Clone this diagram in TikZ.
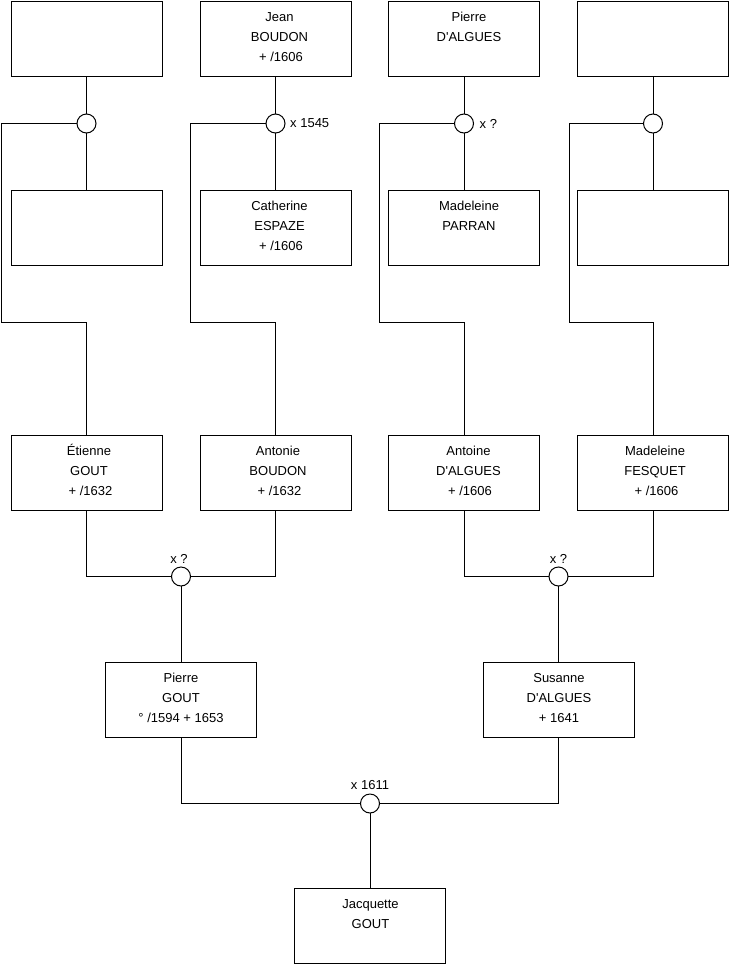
\documentclass[tikz,border=0pt]{standalone}
\usepackage{fontspec}
\setmainfont{Liberation Sans}
\newcommand{\ap}{\textquotesingle}
\newcommand{\ptext}[2]{\parbox[c][75pt][t]{151pt}{\centering\leftskip=#1 plus 1fil\relax\fontsize{13}{20}\selectfont\rule{0pt}{20pt}#2}}
\tikzset{
  person/.style={draw=black, fill=white, line width=1pt, inner sep=0pt, outer sep=0pt},
  union/.style={circle, draw=black, fill=white, line width=1pt, minimum size=19pt, inner sep=0pt, outer sep=0pt},
  link/.style={draw=black, line width=1pt},
  note/.style={font=\fontsize{13}{16}\selectfont, inner sep=0pt}
}
\begin{document}
\begin{tikzpicture}[x=1pt, y=-1pt]
\useasboundingbox (0,0) rectangle (740,975);
% row 1
\node[person] (a1) at (86.5,38.5) {\ptext{6pt}{}};
\node[person] (a2) at (275.5,38.5) {\ptext{8pt}{Jean\\BOUDON\\\hspace*{3pt}+ /1606}};
\node[person] (a3) at (464,38.5) {\ptext{10pt}{Pierre\\D\ap ALGUES}};
\node[person] (a4) at (653,38.5) {\ptext{6pt}{}};
% row 2
\node[person] (b1) at (86.5,227.5) {\ptext{6pt}{}};
\node[person] (b2) at (275.5,227.5) {\ptext{8pt}{Catherine\\ESPAZE\\\hspace*{3pt}+ /1606}};
\node[person] (b3) at (464,227.5) {\ptext{10pt}{Madeleine\\PARRAN}};
\node[person] (b4) at (653,227.5) {\ptext{6pt}{}};
% row 3
\node[person] (c1) at (86.5,472.5) {\ptext{5pt}{Étienne\\GOUT\\\hspace*{3pt}+ /1632}};
\node[person] (c2) at (275.5,472.5) {\ptext{5pt}{Antonie\\BOUDON\\\hspace*{3pt}+ /1632}};
\node[person] (c3) at (464,472.5) {\ptext{9pt}{Antoine\\D\ap ALGUES\\\hspace*{3pt}+ /1606}};
\node[person] (c4) at (653,472.5) {\ptext{4pt}{Madeleine\\FESQUET\\\hspace*{3pt}+ /1606}};
% row 4
\node[person] (d1) at (181,699.5) {\ptext{0pt}{Pierre\\GOUT\\° /1594 + 1653}};
\node[person] (d2) at (558.5,699.5) {\ptext{1pt}{Susanne\\D\ap ALGUES\\+ 1641}};
% row 5
\node[person] (e1) at (370,926) {\ptext{1pt}{Jacquette\\GOUT}};
% unions
\node[union] (m1) at (86.5,123.5) {};
\node[union] (m2) at (275.5,123.5) {};
\node[union] (m3) at (464,123.5) {};
\node[union] (m4) at (653,123.5) {};
\node[union] (m5) at (181,576.5) {};
\node[union] (m6) at (558.5,576.5) {};
\node[union] (m7) at (370,803.5) {};
% turning points
\coordinate (k1) at (1.7,322);
\coordinate (k2) at (190.7,322);
\coordinate (k3) at (379.3,322);
\coordinate (k4) at (569,322);
% connectors
\draw[link] (a1.south) -- (m1.north);
\draw[link] (m1.south) -- (b1.north);
\draw[link] (a2.south) -- (m2.north);
\draw[link] (m2.south) -- (b2.north);
\draw[link] (a3.south) -- (m3.north);
\draw[link] (m3.south) -- (b3.north);
\draw[link] (a4.south) -- (m4.north);
\draw[link] (m4.south) -- (b4.north);
\draw[link] (m1.west) -| (k1) -| (c1.north);
\draw[link] (m2.west) -| (k2) -| (c2.north);
\draw[link] (m3.west) -| (k3) -| (c3.north);
\draw[link] (m4.west) -| (k4) -| (c4.north);
\draw[link] (c1.south) |- (m5.west);
\draw[link] (c2.south) |- (m5.east);
\draw[link] (m5.south) -- (d1.north);
\draw[link] (c3.south) |- (m6.west);
\draw[link] (c4.south) |- (m6.east);
\draw[link] (m6.south) -- (d2.north);
\draw[link] (d1.south) |- (m7.west);
\draw[link] (d2.south) |- (m7.east);
\draw[link] (m7.south) -- (e1.north);
% labels
\node[note, anchor=west] (l2) at ([xshift=5pt]m2.east) {x 1545};
\node[note, anchor=west] (l3) at ([xshift=6pt]m3.east) {x ?};
\node[note, anchor=base] (l5) at ([xshift=-2pt,yshift=4pt]m5.north) {x ?};
\node[note, anchor=base] (l6) at ([yshift=4pt]m6.north) {x ?};
\node[note, anchor=base] (l7) at ([yshift=4.5pt]m7.north) {x 1611};
\end{tikzpicture}
\end{document}
